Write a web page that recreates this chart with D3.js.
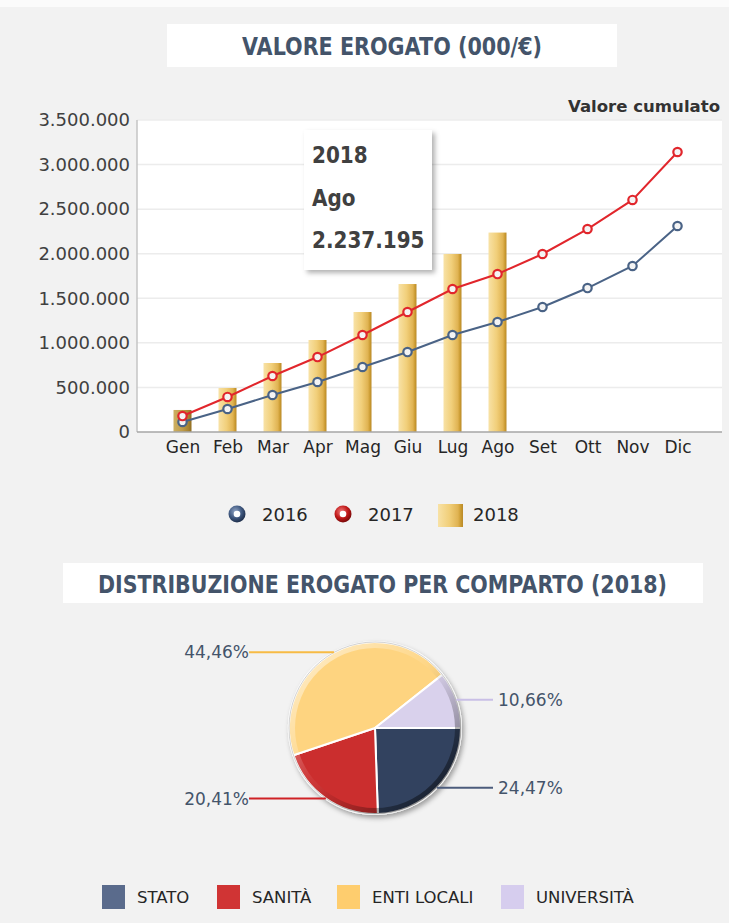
<!DOCTYPE html>
<html><head><meta charset="utf-8">
<script src="https://cdn.jsdelivr.net/npm/d3@7"></script>
<style>
body{margin:0;background:#f2f2f2}
svg{display:block}
text{font-family:"DejaVu Sans",Verdana,sans-serif}
</style>
</head><body>
<svg id="c" width="729" height="923"></svg>
<script>
// ---------- DATA ----------
const months = ["Gen","Feb","Mar","Apr","Mag","Giu","Lug","Ago","Set","Ott","Nov","Dic"];
const values2016 = [112000,258000,415000,561000,729000,897000,1088000,1234000,1402000,1615000,1862000,2311000];
const values2017 = [179000,393000,628000,841000,1088000,1346000,1604000,1772000,1997000,2277000,2603000,3141000];
const values2018 = [247000,494000,774000,1032000,1346000,1660000,1997000,2237195];
const yTicks = [0,500000,1000000,1500000,2000000,2500000,3000000,3500000];
const seriesNames = ["2016","2017","2018"];
const sectors = ["STATO","SANITÀ","ENTI LOCALI","UNIVERSITÀ"];
const shares = [24.47,20.41,44.46,10.66];
const tooltipIndex = 7;

// ---------- SETUP ----------
const it = d3.formatLocale({decimal:",",thousands:".",grouping:[3],currency:["€",""]});
const fmtInt = it.format(",d");
const fmtPct = v => it.format(".2f")(v) + "%";

const svg = d3.select("#c");
const defs = svg.append("defs");

function linGrad(id, stops, x2="100%", y2="0%"){
  const g = defs.append("linearGradient").attr("id",id).attr("x1","0%").attr("y1","0%").attr("x2",x2).attr("y2",y2);
  stops.forEach(s=>g.append("stop").attr("offset",s[0]).attr("stop-color",s[1]).attr("stop-opacity",s[2]==null?1:s[2]));
}
linGrad("barG",[["0%","#f8e2a6"],["45%","#f1cf7a"],["80%","#e0b352"],["92%","#c9992f"],["100%","#b98a2a"]]);
linGrad("barGdark",[["0%","#cdb062"],["50%","#bf9c4a"],["85%","#a7822f"],["100%","#8f6d22"]]);

function radGrad(id, stops){
  const g = defs.append("radialGradient").attr("id",id).attr("cx","40%").attr("cy","35%").attr("r","65%");
  stops.forEach(s=>g.append("stop").attr("offset",s[0]).attr("stop-color",s[1]));
}
radGrad("sph2016",[["0%","#8fa3c4"],["60%","#3f587f"],["100%","#1f2f4c"]]);
radGrad("sph2017",[["0%","#f07a7a"],["60%","#c01818"],["100%","#7a0a0a"]]);

const sh = defs.append("filter").attr("id","shadow").attr("x","-20%").attr("y","-20%").attr("width","150%").attr("height","150%");
sh.append("feDropShadow").attr("dx",3).attr("dy",3).attr("stdDeviation",2.5).attr("flood-color","#000").attr("flood-opacity",0.3);
const sh2 = defs.append("filter").attr("id","pieShadow").attr("x","-20%").attr("y","-20%").attr("width","150%").attr("height","150%");
sh2.append("feDropShadow").attr("dx",2).attr("dy",3).attr("stdDeviation",2.5).attr("flood-color","#000").attr("flood-opacity",0.35);

// top white strip
svg.append("rect").attr("x",0).attr("y",0).attr("width",729).attr("height",7).attr("fill","#fbfbfb");

// ---------- TITLE 1 ----------
svg.append("rect").attr("x",167).attr("y",24).attr("width",450).attr("height",43).attr("fill","#fff");
svg.append("text").attr("transform","translate(392,55) scale(1,1.2)").attr("text-anchor","middle")
  .attr("font-size",20).attr("font-weight","bold").attr("fill","#44546a")
  .attr("textLength",300).attr("lengthAdjust","spacingAndGlyphs")
  .text("VALORE EROGATO (000/€)");

// ---------- LINE/BAR CHART ----------
const plot = {x0:137, x1:722, y0:120, y1:432};
svg.append("rect").attr("x",plot.x0).attr("y",plot.y0).attr("width",plot.x1-plot.x0).attr("height",plot.y1-plot.y0).attr("fill","#fff");

const x = d3.scalePoint().domain(months).range([182.5,677.5]);
const y = d3.scaleLinear().domain([0,3500000]).range([plot.y1,plot.y0]);

// gridlines
svg.append("g").selectAll("line").data(yTicks.filter(d=>d>0)).join("line")
  .attr("x1",plot.x0).attr("x2",plot.x1).attr("y1",d=>y(d)).attr("y2",d=>y(d))
  .attr("stroke","#ececec").attr("stroke-width",1.5);

// y axis
const yAxis = svg.append("g").attr("transform",`translate(${plot.x0-7},0)`)
  .call(d3.axisLeft(y).tickValues(yTicks).tickFormat(fmtInt).tickSize(0).tickPadding(0));
yAxis.select(".domain").remove();
yAxis.selectAll("text").attr("font-size",18).attr("fill","#404040").attr("font-family","DejaVu Sans, sans-serif");
svg.append("line").attr("x1",plot.x0).attr("x2",plot.x0).attr("y1",plot.y0).attr("y2",plot.y1).attr("stroke","#c4c4c4").attr("stroke-width",1.5);

// bars
const barW = x.step()*0.4;
svg.append("g").selectAll("rect").data(values2018).join("rect")
  .attr("x",(d,i)=>x(months[i])-barW/2).attr("width",barW)
  .attr("y",d=>y(d)).attr("height",d=>y(0)-y(d))
  .attr("fill",(d,i)=>i===0?"url(#barGdark)":"url(#barG)");

// x axis
svg.append("line").attr("x1",plot.x0).attr("x2",plot.x1).attr("y1",plot.y1).attr("y2",plot.y1).attr("stroke","#a6a6a6").attr("stroke-width",1.5);
const xAxis = svg.append("g").attr("transform",`translate(0,${plot.y1+8})`)
  .call(d3.axisBottom(x).tickSize(0).tickPadding(0));
xAxis.select(".domain").remove();
xAxis.selectAll("text").attr("font-size",17).attr("fill","#262626").attr("font-family","DejaVu Sans, sans-serif").attr("dy","0.75em");

// lines
const lineGen = d3.line().x((d,i)=>x(months[i])).y(d=>y(d));
const lineSeries = [{vals:values2016,color:"#4a6386"},{vals:values2017,color:"#e1262c"}];
lineSeries.forEach(s=>{
  svg.append("path").datum(s.vals).attr("d",lineGen).attr("fill","none").attr("stroke",s.color).attr("stroke-width",2);
  svg.append("g").selectAll("circle").data(s.vals).join("circle")
    .attr("cx",(d,i)=>x(months[i])).attr("cy",d=>y(d)).attr("r",4.2)
    .attr("fill","#f4f4f4").attr("stroke",s.color).attr("stroke-width",2.2);
});

// "Valore cumulato"
svg.append("text").attr("x",720).attr("y",112).attr("text-anchor","end")
  .attr("font-size",16).attr("font-weight","bold").attr("fill","#333")
  .attr("textLength",152).attr("lengthAdjust","spacingAndGlyphs").text("Valore cumulato");

// tooltip
const tip = svg.append("g").attr("transform","translate(304,130)");
tip.append("rect").attr("width",128).attr("height",140).attr("fill","#fff").attr("filter","url(#shadow)");
const tipLines = [seriesNames[2], months[tooltipIndex], fmtInt(values2018[tooltipIndex])];
tip.selectAll("text").data(tipLines).join("text")
  .attr("transform",(d,i)=>`translate(8,${33+i*42.5}) scale(1,1.12)`)
  .attr("font-size",20).attr("font-weight","bold").attr("fill","#404040").text(d=>d);

// legend 1
const leg1 = svg.append("g");
[["sph2016",237],["sph2017",343]].forEach(([g,cx])=>{
  leg1.append("circle").attr("cx",cx).attr("cy",514).attr("r",8.5).attr("fill",`url(#${g})`);
  leg1.append("circle").attr("cx",cx).attr("cy",514).attr("r",3.3).attr("fill","#fff");
});
leg1.append("rect").attr("x",438).attr("y",504).attr("width",25).attr("height",23).attr("fill","url(#barG)");
leg1.selectAll("text.l").data(seriesNames).join("text").attr("class","l")
  .attr("x",(d,i)=>[262,368,473][i]).attr("y",521)
  .attr("font-size",18).attr("fill","#262626").text(d=>d);

// ---------- TITLE 2 ----------
svg.append("rect").attr("x",63).attr("y",563).attr("width",640).attr("height",40).attr("fill","#fff");
svg.append("text").attr("transform","translate(382.5,593) scale(1,1.2)").attr("text-anchor","middle")
  .attr("font-size",20).attr("font-weight","bold").attr("fill","#44546a")
  .attr("textLength",569).attr("lengthAdjust","spacingAndGlyphs")
  .text("DISTRIBUZIONE EROGATO PER COMPARTO (2018)");

// ---------- PIE ----------
const pieColors = ["#33425f","#cb2f2d","#fed480","#d9d1ec"];
const lineColors = ["#4c5c7c","#cf2226","#f7bb45","#c9bfe6"];
const legendColors = ["#5a6b8c","#d03434","#fecd6e","#d6cdee"];
const cx = 375, cy = 728, R = 86;
const pie = d3.pie().sort(null).startAngle(Math.PI/2).endAngle(Math.PI/2+2*Math.PI);
const arcs = pie(shares);
const arc = d3.arc().innerRadius(0).outerRadius(R);
const pg = svg.append("g").attr("transform",`translate(${cx},${cy})`);
const pieG = pg.append("g").attr("filter","url(#pieShadow)");
pieG.selectAll("path").data(arcs).join("path").attr("d",arc)
  .attr("fill",(d,i)=>pieColors[i]).attr("stroke","#fff").attr("stroke-width",2).attr("stroke-linejoin","round");
// bevel rim
const rimArc = d3.arc().innerRadius(R-6).outerRadius(R).startAngle(0).endAngle(2*Math.PI);
const rimGrad = defs.append("linearGradient").attr("id","rimU").attr("gradientUnits","userSpaceOnUse")
  .attr("x1",-R*0.7).attr("y1",-R*0.7).attr("x2",R*0.7).attr("y2",R*0.7);
[["0%","#fff",0.45],["45%","#fff",0.05],["60%","#000",0.08],["100%","#000",0.45]].forEach(s=>
  rimGrad.append("stop").attr("offset",s[0]).attr("stop-color",s[1]).attr("stop-opacity",s[2]));
pg.append("path").attr("d",rimArc()).attr("fill","url(#rimU)");
pg.append("circle").attr("r",R).attr("fill","none").attr("stroke","#000").attr("stroke-opacity",0.18).attr("stroke-width",1);

// leader lines and labels
arcs.forEach((a,i)=>{
  const m = (a.startAngle+a.endAngle)/2;
  const px = R*Math.sin(m), py = -R*Math.cos(m);
  const right = px>0;
  const ex = right ? 118 : -126;
  pg.append("line").attr("x1",px).attr("y1",py).attr("x2",ex).attr("y2",py)
    .attr("stroke",lineColors[i]).attr("stroke-width",2);
  pg.append("text").attr("x",right?ex+5:ex).attr("y",py).attr("dy","0.35em")
    .attr("text-anchor",right?"start":"end")
    .attr("font-size",17).attr("fill","#44546a").text(fmtPct(shares[i]));
});

// legend 2
const leg2X = [102,217,337,501];
const leg2 = svg.append("g");
sectors.forEach((s,i)=>{
  leg2.append("rect").attr("x",leg2X[i]).attr("y",885).attr("width",23).attr("height",24).attr("fill",legendColors[i]);
  leg2.append("text").attr("x",leg2X[i]+35).attr("y",897).attr("dy","0.36em")
    .attr("font-size",16.5).attr("fill","#262626").text(s);
});
</script>
</body></html>
